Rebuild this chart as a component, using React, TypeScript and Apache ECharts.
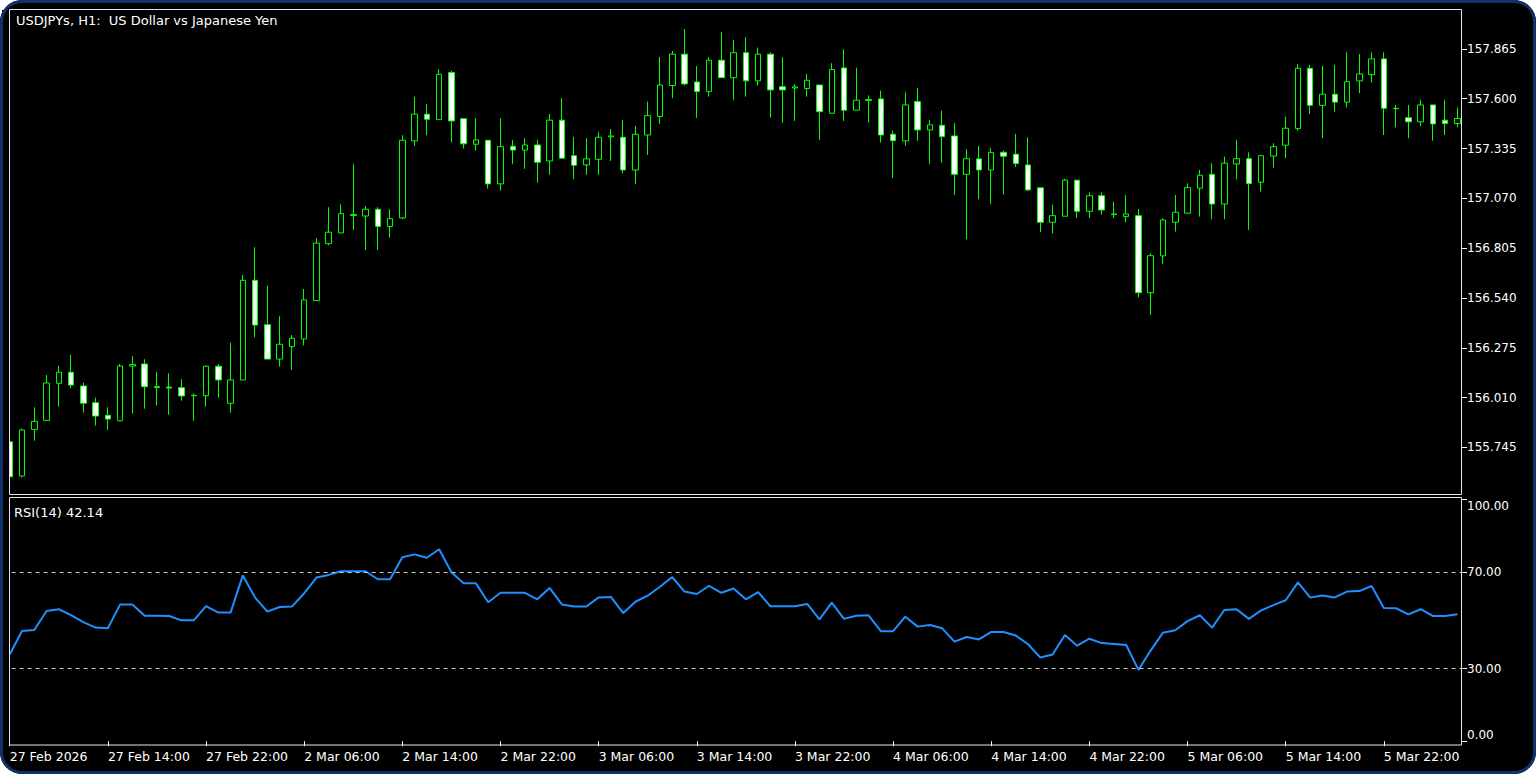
import React, { useEffect, useRef } from "react";
import * as echarts from "echarts";

const FONT = "DejaVu Sans";

// Hourly bars: 27 Feb 06:00 .. 6 Mar 04:00 (weekend skipped)
const dayBlocks: [string, number, number][] = [
  ["27 Feb", 6, 23],
  ["2 Mar", 0, 23],
  ["3 Mar", 0, 23],
  ["4 Mar", 0, 23],
  ["5 Mar", 0, 23],
  ["6 Mar", 0, 4],
];
const categories: string[] = [];
dayBlocks.forEach(([d, h0, h1]) => {
  for (let h = h0; h <= h1; h++) categories.push(`${d} ${String(h).padStart(2, "0")}:00`);
});
const firstTickLabel = "27 Feb 2026";

const opens = [
  155.775, 155.593, 155.841, 155.889, 156.086, 156.145, 156.072, 155.983, 155.916, 155.887,
  156.178, 156.189, 156.068, 156.066, 156.063, 156.022, 156.020, 156.177, 155.980, 156.104,
  156.634, 156.398, 156.215, 156.281, 156.322, 156.526, 156.829, 156.886, 156.979, 156.976,
  157.012, 156.920, 156.966, 157.376, 157.518, 157.489, 157.739, 157.494, 157.358, 157.379,
  157.147, 157.347, 157.327, 157.354, 157.269, 157.486, 157.297, 157.248, 157.278, 157.397,
  157.395, 157.221, 157.407, 157.505, 157.670, 157.837, 157.689, 157.638, 157.805, 157.712,
  157.845, 157.695, 157.837, 157.664, 157.657, 157.654, 157.673, 157.523, 157.764, 157.539,
  157.591, 157.599, 157.411, 157.376, 157.585, 157.434, 157.459, 157.402, 157.198, 157.280,
  157.221, 157.315, 157.305, 157.248, 157.126, 156.943, 156.975, 157.167, 157.001, 157.084,
  156.987, 156.973, 156.978, 156.568, 156.764, 156.943, 156.991, 157.124, 157.198, 157.040,
  157.253, 157.281, 157.156, 157.295, 157.353, 157.441, 157.762, 157.565, 157.624, 157.582,
  157.695, 157.728, 157.812, 157.549, 157.499, 157.477, 157.567, 157.486, 157.468,
];
const closes = [
  155.589, 155.838, 155.884, 156.088, 156.145, 156.077, 155.980, 155.912, 155.896, 156.178,
  156.186, 156.068, 156.064, 156.061, 156.019, 156.020, 156.177, 156.104, 156.104, 156.634,
  156.396, 156.215, 156.294, 156.326, 156.530, 156.832, 156.890, 156.989, 156.984, 157.012,
  156.920, 156.962, 157.379, 157.518, 157.491, 157.730, 157.482, 157.360, 157.381, 157.147,
  157.345, 157.327, 157.354, 157.262, 157.486, 157.284, 157.246, 157.280, 157.395, 157.402,
  157.221, 157.411, 157.510, 157.673, 157.837, 157.679, 157.638, 157.805, 157.712, 157.845,
  157.695, 157.837, 157.647, 157.647, 157.663, 157.698, 157.531, 157.755, 157.539, 157.592,
  157.596, 157.407, 157.377, 157.567, 157.434, 157.461, 157.398, 157.198, 157.281, 157.221,
  157.313, 157.294, 157.255, 157.115, 156.943, 156.978, 157.167, 157.001, 157.084, 157.008,
  156.984, 156.987, 156.568, 156.765, 156.955, 156.996, 157.127, 157.193, 157.040, 157.257,
  157.281, 157.149, 157.297, 157.345, 157.443, 157.762, 157.565, 157.624, 157.582, 157.691,
  157.732, 157.812, 157.549, 157.547, 157.477, 157.567, 157.466, 157.468, 157.495,
];
const lows = [
  155.585, 155.586, 155.781, 155.889, 155.962, 156.060, 155.930, 155.861, 155.838, 155.885,
  155.926, 155.951, 155.969, 155.919, 155.994, 155.887, 155.962, 156.010, 155.930, 156.104,
  156.331, 156.215, 156.175, 156.157, 156.288, 156.526, 156.820, 156.886, 156.902, 156.795,
  156.795, 156.861, 156.960, 157.349, 157.406, 157.489, 157.367, 157.335, 157.324, 157.122,
  157.111, 157.252, 157.227, 157.154, 157.195, 157.280, 157.172, 157.195, 157.195, 157.269,
  157.204, 157.145, 157.301, 157.466, 157.603, 157.670, 157.498, 157.611, 157.712, 157.594,
  157.611, 157.670, 157.500, 157.473, 157.482, 157.611, 157.381, 157.523, 157.482, 157.539,
  157.473, 157.367, 157.177, 157.350, 157.376, 157.253, 157.260, 157.088, 156.852, 157.065,
  157.040, 157.090, 157.237, 157.108, 156.891, 156.884, 156.975, 156.966, 156.966, 156.983,
  156.966, 156.943, 156.544, 156.450, 156.721, 156.893, 156.991, 156.973, 156.959, 156.959,
  157.172, 156.902, 157.106, 157.233, 157.284, 157.430, 157.519, 157.390, 157.531, 157.553,
  157.630, 157.686, 157.407, 157.448, 157.390, 157.455, 157.376, 157.407, 157.448,
];
const highs = [
  155.780, 155.845, 155.958, 156.130, 156.180, 156.237, 156.089, 156.010, 155.959, 156.189,
  156.231, 156.214, 156.146, 156.140, 156.108, 156.033, 156.180, 156.189, 156.302, 156.662,
  156.810, 156.606, 156.443, 156.343, 156.588, 156.858, 157.023, 157.039, 157.252, 157.029,
  157.023, 157.012, 157.406, 157.610, 157.571, 157.757, 157.748, 157.494, 157.496, 157.379,
  157.496, 157.381, 157.390, 157.381, 157.519, 157.603, 157.397, 157.390, 157.422, 157.438,
  157.487, 157.456, 157.585, 157.822, 157.854, 157.971, 157.774, 157.822, 157.954, 157.913,
  157.927, 157.872, 157.847, 157.821, 157.677, 157.732, 157.673, 157.789, 157.863, 157.765,
  157.618, 157.643, 157.430, 157.634, 157.658, 157.487, 157.537, 157.470, 157.331, 157.349,
  157.338, 157.324, 157.413, 157.395, 157.126, 157.036, 157.175, 157.167, 157.102, 157.102,
  157.053, 157.087, 157.014, 156.778, 156.964, 157.088, 157.150, 157.221, 157.257, 157.292,
  157.381, 157.315, 157.300, 157.363, 157.505, 157.785, 157.780, 157.774, 157.780, 157.847,
  157.838, 157.847, 157.847, 157.567, 157.567, 157.594, 157.567, 157.594, 157.553,
];
const rsiValues = [
  35.9, 45.6, 46.0, 53.9, 54.6, 52.2, 49.3, 47.0, 46.7, 56.6,
  56.6, 51.9, 51.9, 51.8, 50.0, 50.0, 55.9, 53.2, 53.2, 68.6,
  59.4, 53.6, 55.5, 55.7, 61.2, 67.7, 68.8, 70.3, 70.3, 70.3,
  67.0, 67.0, 76.1, 77.3, 75.9, 79.4, 69.9, 65.3, 65.3, 57.5,
  61.4, 61.4, 61.4, 58.7, 63.4, 56.6, 55.7, 55.7, 59.5, 59.7,
  53.0, 57.7, 60.2, 63.9, 67.9, 61.9, 60.9, 64.3, 61.4, 63.2,
  58.7, 61.7, 55.8, 55.8, 55.8, 56.8, 50.4, 57.3, 50.6, 51.9,
  52.1, 45.5, 45.5, 51.5, 47.4, 48.1, 46.7, 41.2, 43.1, 42.1,
  45.2, 45.2, 43.7, 40.1, 34.6, 35.9, 43.9, 39.5, 42.4, 40.6,
  40.2, 39.8, 29.5, 37.6, 44.9, 45.9, 49.7, 52.1, 47.0, 54.3,
  54.6, 50.6, 54.1, 56.3, 58.3, 65.7, 59.4, 60.3, 59.5, 61.9,
  62.1, 64.2, 55.1, 55.0, 52.5, 54.6, 51.8, 51.8, 52.5,
];
const priceTicks = [155.745, 156.01, 156.275, 156.54, 156.805, 157.07, 157.335, 157.6, 157.865];
const rsiTicks = [0, 30, 70, 100];
const rsiLevels = [70, 30];
const titleText = "USDJPYs, H1:\u00a0\u00a0US Dollar vs Japanese Yen";
const rsiText = "RSI(14) 42.14";

export default function App() {
  const ref = useRef<HTMLDivElement>(null);
  useEffect(() => {
    if (!ref.current) return;
    const chart = echarts.init(ref.current, null, { renderer: "svg" });
    const ohlc = opens.map((o, i) => [o, closes[i], lows[i], highs[i]]);
    const white = "#ffffff";
    const frame = "#e6e6e6";
    chart.setOption({
      animation: false,
      backgroundColor: "transparent",
      textStyle: { fontFamily: FONT },
      title: [
        { text: titleText, left: 16, top: 13.5, padding: 0, textStyle: { color: white, fontSize: 13, fontWeight: "normal", fontFamily: FONT } },
        { text: rsiText, left: 14, top: 505.5, padding: 0, textStyle: { color: white, fontSize: 13, fontWeight: "normal", fontFamily: FONT } },
      ],
      grid: [
        { left: 3.6, right: 72.4, top: 10, height: 485 },
        { left: 3.6, right: 72.4, top: 499.5, height: 241.7 },
      ],
      xAxis: [
        { type: "category", gridIndex: 0, data: categories, boundaryGap: true, show: false },
        {
          type: "category",
          gridIndex: 1,
          data: categories,
          boundaryGap: true,
          position: "bottom",
          offset: 3.8,
          axisLine: { show: false },
          axisTick: { show: true, alignWithLabel: true, interval: 7, length: 5, lineStyle: { color: white } },
          axisLabel: {
            interval: 7,
            align: "left",
            color: white,
            fontSize: 12.5,
            fontFamily: FONT,
            margin: 5,
            formatter: (v: string, i: number) => (i === 0 ? firstTickLabel : v),
          },
          splitLine: { show: false },
        },
      ],
      yAxis: [
        {
          type: "value",
          gridIndex: 0,
          position: "right",
          min: 155.492,
          max: 158.072,
          offset: -1.6,
          splitLine: { show: false },
          axisLine: { show: false },
          axisTick: { show: true, length: 5, lineStyle: { color: white }, customValues: priceTicks },
          axisLabel: {
            customValues: priceTicks,
            color: white,
            fontSize: 12,
            fontFamily: FONT,
            margin: 5,
            formatter: (v: number) => v.toFixed(3),
          },
        },
        {
          type: "value",
          gridIndex: 1,
          position: "right",
          min: 0,
          max: 100,
          offset: -1.6,
          splitLine: { show: false },
          axisLine: { show: false },
          axisTick: { show: true, length: 5, lineStyle: { color: white }, customValues: rsiTicks },
          axisLabel: {
            customValues: rsiTicks,
            color: white,
            fontSize: 12,
            fontFamily: FONT,
            margin: 5,
            verticalAlignMinLabel: "bottom",
            verticalAlignMaxLabel: "top",
            formatter: (v: number) => v.toFixed(2),
          },
        },
      ],
      series: [
        {
          type: "candlestick",
          xAxisIndex: 0,
          yAxisIndex: 0,
          data: ohlc,
          barWidth: 6,
          itemStyle: {
            color: "#000000",
            color0: "#ffffff",
            borderColor: "#00ff00",
            borderColor0: "#00ff00",
            borderColorDoji: "#00ff00",
            borderWidth: 1,
          },
        },
        {
          type: "line",
          xAxisIndex: 1,
          yAxisIndex: 1,
          data: rsiValues,
          showSymbol: false,
          symbol: "none",
          lineStyle: { color: "#1e90ff", width: 2 },
          markLine: {
            silent: true,
            symbol: "none",
            label: { show: false },
            lineStyle: { color: "#c8c8c8", type: [4, 4], width: 1 },
            data: rsiLevels.map((v) => ({ yAxis: v })),
          },
        },
      ],
      graphic: [
        { type: "rect", silent: true, z: 90, shape: { x: 2, y: 10, width: 7.5, height: 735 }, style: { fill: "#000000" } },
        { type: "rect", silent: true, z: 100, shape: { x: 9.5, y: 9.5, width: 1452, height: 485 }, style: { fill: "none", stroke: frame, lineWidth: 1 } },
        { type: "rect", silent: true, z: 100, shape: { x: 9.5, y: 497.5, width: 1452, height: 247.5 }, style: { fill: "none", stroke: frame, lineWidth: 1 } },
      ],
    });
    return () => chart.dispose();
  }, []);

  return (
    <div style={{ position: "absolute", left: 0, top: 0, width: 1536, height: 774, background: "#ffffff" }}>
      <div style={{ position: "absolute", left: 0, top: 0, width: 1536, height: 774, background: "#000000", borderRadius: 22 }} />
      <div ref={ref} style={{ position: "absolute", left: 0, top: 0, width: 1536, height: 774 }} />
      <div
        style={{
          position: "absolute",
          left: 0,
          top: 0,
          width: 1536,
          height: 774,
          border: "3px solid #10306c",
          borderRadius: 22,
          boxSizing: "border-box",
          pointerEvents: "none",
        }}
      />
    </div>
  );
}
